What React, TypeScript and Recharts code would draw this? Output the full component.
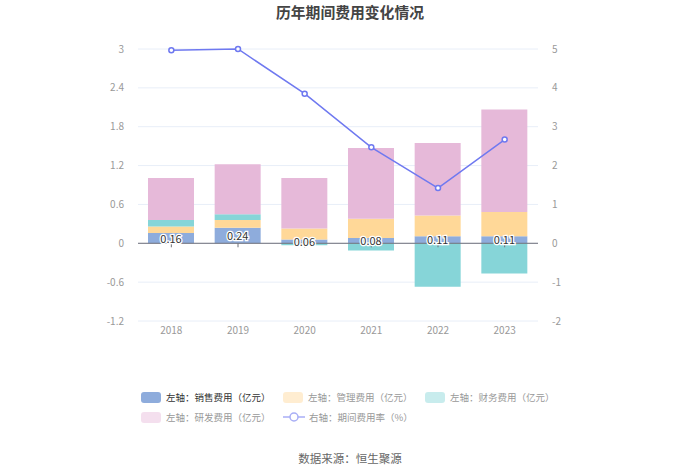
import {
  ComposedChart,
  Bar,
  Line,
  XAxis,
  YAxis,
  CartesianGrid,
  ReferenceLine,
  ReferenceDot,
  LabelList,
} from "recharts";

const years = ["2018", "2019", "2020", "2021", "2022", "2023"];
const sales = [0.16, 0.24, 0.06, 0.08, 0.11, 0.11];
const management = [0.1, 0.12, 0.17, 0.3, 0.32, 0.375];
const finance = [0.1, 0.09, -0.03, -0.11, -0.67, -0.465];
const research = [0.65, 0.77, 0.78, 1.09, 1.12, 1.58];
const expenseRate = [4.97, 5.0, 3.85, 2.47, 1.42, 2.67];

const leftTicks = [-1.2, -0.6, 0, 0.6, 1.2, 1.8, 2.4, 3];
const rightTicks = [-2, -1, 0, 1, 2, 3, 4, 5];

const COLORS = {
  sales: "#8EACDC",
  management: "#FFD898",
  finance: "#86D5D8",
  research: "#E6B9D9",
  rate: "#6F79F0",
};

const data = years.map((year, i) => ({
  year,
  sales: sales[i],
  management: management[i],
  finance: finance[i],
  research: research[i],
  rate: expenseRate[i],
}));

const FONT = '"Noto Sans CJK SC", "Noto Sans", sans-serif';

const tickStyle = { fontSize: 10, fill: "#999", fontFamily: FONT };

const SalesLabel = (props: any) => {
  const { x, y, width, height, value } = props;
  return (
    <text
      x={x + width / 2}
      y={y + height / 2}
      dy="0.4em"
      textAnchor="middle"
      fontSize={11}
      fontFamily={FONT}
      fill="#333"
      stroke="#fff"
      strokeWidth={2.5}
      paintOrder="stroke"
    >
      {Number(value).toFixed(2)}
    </text>
  );
};

const ZeroTick = (props: any) => (
  <line x1={props.cx} y1={props.cy} x2={props.cx} y2={props.cy + 4} stroke="#6E7079" />
);

const legendRows = [
  [
    { label: "左轴：销售费用（亿元）", color: COLORS.sales, type: "rect", active: true },
    { label: "左轴：管理费用（亿元）", color: COLORS.management, type: "rect", active: false },
    { label: "左轴：财务费用（亿元）", color: COLORS.finance, type: "rect", active: false },
  ],
  [
    { label: "左轴：研发费用（亿元）", color: COLORS.research, type: "rect", active: false },
    { label: "右轴：期间费用率（%）", color: COLORS.rate, type: "line", active: false },
  ],
];

const LegendIcon = ({ color, type, active }: { color: string; type: string; active: boolean }) => {
  if (type === "line") {
    return (
      <svg width={22} height={12} style={{ opacity: 0.6 }}>
        <line x1={0} y1={6} x2={22} y2={6} stroke={color} strokeWidth={1.5} />
        <circle cx={11} cy={6} r={4} fill="#fff" stroke={color} strokeWidth={1.5} />
      </svg>
    );
  }
  return (
    <div
      style={{
        width: 20,
        height: 11,
        borderRadius: 3,
        background: color,
        opacity: active ? 1 : 0.45,
      }}
    />
  );
};

export default function App() {
  return (
    <div
      style={{
        position: "absolute",
        left: 0,
        top: 0,
        width: 700,
        height: 474,
        background: "#fff",
        fontFamily: FONT,
      }}
    >
      <div
        style={{
          position: "absolute",
          top: 2,
          left: 0,
          width: 700,
          textAlign: "center",
          fontSize: 14.8,
          fontWeight: "bold",
          color: "#444",
          lineHeight: "20px",
        }}
      >
        历年期间费用变化情况
      </div>

      <ComposedChart
        width={700}
        height={474}
        data={data}
        stackOffset="sign"
        margin={{ top: 49, right: 122, bottom: 133, left: 88 }}
      >
        <CartesianGrid yAxisId="left" vertical={false} stroke="#E8EEF8" />
        <XAxis
          dataKey="year"
          axisLine={false}
          tickLine={false}
          tickMargin={0}
          height={20}
          tick={tickStyle}
        />
        <YAxis
          yAxisId="left"
          domain={[-1.2, 3]}
          ticks={leftTicks}
          axisLine={false}
          tickLine={false}
          tickMargin={8}
          width={50}
          tick={tickStyle}
        />
        <YAxis
          yAxisId="right"
          orientation="right"
          domain={[-2, 5]}
          ticks={rightTicks}
          axisLine={false}
          tickLine={false}
          tickMargin={8}
          width={40}
          tick={tickStyle}
        />
        <Bar yAxisId="left" dataKey="sales" stackId="a" fill={COLORS.sales} barSize={46} isAnimationActive={false}>
          <LabelList dataKey="sales" content={SalesLabel} />
        </Bar>
        <Bar yAxisId="left" dataKey="management" stackId="a" fill={COLORS.management} barSize={46} isAnimationActive={false} />
        <Bar yAxisId="left" dataKey="finance" stackId="a" fill={COLORS.finance} barSize={46} isAnimationActive={false} />
        <Bar yAxisId="left" dataKey="research" stackId="a" fill={COLORS.research} barSize={46} isAnimationActive={false} />
        <ReferenceLine yAxisId="left" y={0} stroke="#6E7079" />
        {years.map((year) => (
          <ReferenceDot key={year} yAxisId="left" x={year} y={0} shape={ZeroTick} />
        ))}
        <Line
          yAxisId="right"
          dataKey="rate"
          stroke={COLORS.rate}
          strokeWidth={1.5}
          dot={{ r: 2.5, fill: "#fff", stroke: COLORS.rate, strokeWidth: 1.5 }}
          isAnimationActive={false}
        />
      </ComposedChart>

      {legendRows.map((row, r) => (
        <div key={r} style={{ position: "absolute", top: 390 + r * 20, left: 141, display: "flex" }}>
          {row.map((item) => (
            <div
              key={item.label}
              style={{ width: 142, display: "flex", alignItems: "center", height: 14 }}
            >
              <LegendIcon color={item.color} type={item.type} active={item.active} />
              <span
                style={{
                  marginLeft: item.type === "line" ? 4 : 5,
                  fontSize: 9.5,
                  color: item.active ? "#333" : "#999",
                  whiteSpace: "nowrap",
                }}
              >
                {item.label}
              </span>
            </div>
          ))}
        </div>
      ))}

      <div
        style={{
          position: "absolute",
          top: 449,
          left: 0,
          width: 700,
          textAlign: "center",
          fontSize: 11.5,
          color: "#666",
          lineHeight: "18px",
        }}
      >
        数据来源：恒生聚源
      </div>
    </div>
  );
}
